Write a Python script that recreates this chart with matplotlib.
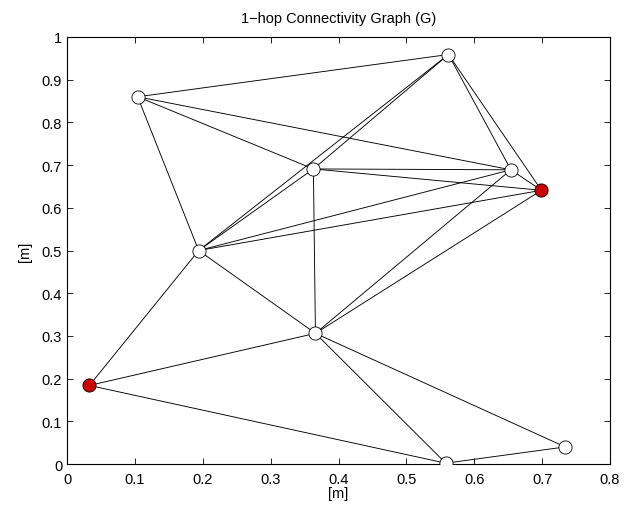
import matplotlib
matplotlib.use("Agg")
import matplotlib.pyplot as plt
from matplotlib.ticker import MultipleLocator

plt.rcParams['font.family'] = ['Liberation Sans', 'DejaVu Sans']

# node positions [m]
node_x = [0.033, 0.104, 0.194, 0.363, 0.366, 0.562, 0.654, 0.699, 0.558, 0.734]
node_y = [0.184, 0.860, 0.500, 0.691, 0.306, 0.959, 0.689, 0.641, 0.002, 0.040]
# red (anchor) nodes
red_nodes = [0, 7]
# 1-hop links
edges = [(0, 2), (0, 4), (0, 8),
         (1, 5), (1, 3), (1, 6), (1, 2),
         (2, 3), (2, 5), (2, 6), (2, 7), (2, 4),
         (3, 5), (3, 6), (3, 7), (3, 4),
         (4, 6), (4, 7), (4, 8), (4, 9),
         (5, 6), (5, 7), (6, 7), (8, 9)]

fig = plt.figure(figsize=(6.39, 5.10), dpi=100)
ax = fig.add_axes([0.1049, 0.0882, 0.8497, 0.8373])

for i, j in edges:
    ax.plot([node_x[i], node_x[j]], [node_y[i], node_y[j]], '-', color='black', lw=0.65, zorder=1)

for k in range(len(node_x)):
    fc = '#cc0000' if k in red_nodes else 'white'
    ax.plot(node_x[k], node_y[k], 'o', ms=9.5, mfc=fc, mec='black', mew=0.6, zorder=3)

ax.set_xlim(0, 0.8)
ax.set_ylim(0, 1)
ax.xaxis.set_major_locator(MultipleLocator(0.1))
ax.yaxis.set_major_locator(MultipleLocator(0.1))
ax.set_xticklabels([f"{v:g}" for v in ax.get_xticks()])
ax.set_yticklabels([f"{v:g}" for v in ax.get_yticks()])
ax.tick_params(direction='in', top=True, right=True, labelsize=10.5, length=4, width=0.6)
ax.tick_params(axis='x', pad=6)
for s in ax.spines.values():
    s.set_linewidth(0.8)

ax.set_xlabel('[m]', fontsize=10.5, labelpad=0)
ax.set_ylabel('[m]', fontsize=10.5, labelpad=7)
ax.set_title('1\u2212hop Connectivity Graph (G)', fontsize=10.5, pad=11)

fig.savefig('out.png', dpi=100)
